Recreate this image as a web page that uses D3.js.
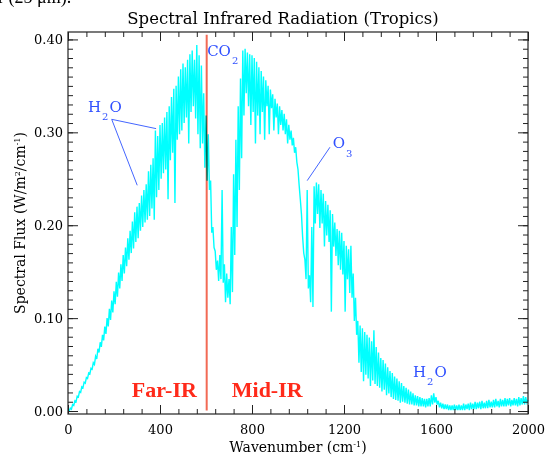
<!DOCTYPE html>
<html>
<head>
<meta charset="utf-8">
<script src="https://cdn.jsdelivr.net/npm/d3@7"></script>
<style>
  body { margin: 0; background: #fff; }
  svg { display: block; }
  .tick text { font-family: 'DejaVu Serif', serif; font-size: 13px; fill: #000; }
  .tick line { stroke: #222; }
</style>
</head>
<body>
<div id="chart"></div>
<script>
const width = 551;
const height = 458;
const plotLeft = 68, plotRight = 528, plotTop = 32, plotBottom = 414;

const wavenumbers = d3.range(0, 2001, 10);
const fluxHigh = [
  0.000, 0.003, 0.007, 0.011, 0.016, 0.021, 0.026, 0.031, 0.036, 0.041,
  0.046, 0.052, 0.059, 0.067, 0.074, 0.082, 0.091, 0.100, 0.110, 0.119,
  0.129, 0.139, 0.149, 0.158, 0.168, 0.176, 0.186, 0.194, 0.204, 0.214,
  0.220, 0.224, 0.232, 0.238, 0.244, 0.258, 0.265, 0.272, 0.302, 0.296,
  0.308, 0.310, 0.316, 0.322, 0.328, 0.338, 0.347, 0.350, 0.360, 0.368,
  0.374, 0.370, 0.378, 0.384, 0.388, 0.378, 0.394, 0.383, 0.372, 0.342,
  0.318, 0.298, 0.248, 0.198, 0.172, 0.162, 0.168, 0.238, 0.158, 0.148,
  0.142, 0.198, 0.255, 0.292, 0.328, 0.358, 0.388, 0.390, 0.386, 0.384,
  0.383, 0.380, 0.376, 0.370, 0.366, 0.360, 0.356, 0.350, 0.346, 0.341,
  0.336, 0.331, 0.328, 0.324, 0.320, 0.314, 0.308, 0.302, 0.294, 0.284,
  0.260, 0.228, 0.188, 0.163, 0.238, 0.146, 0.198, 0.242, 0.246, 0.244,
  0.238, 0.234, 0.226, 0.222, 0.216, 0.212, 0.203, 0.196, 0.194, 0.192,
  0.183, 0.178, 0.174, 0.178, 0.148, 0.122, 0.097, 0.092, 0.089, 0.085,
  0.082, 0.079, 0.075, 0.087, 0.069, 0.063, 0.057, 0.055, 0.051, 0.047,
  0.043, 0.041, 0.037, 0.035, 0.032, 0.030, 0.027, 0.025, 0.023, 0.021,
  0.019, 0.017, 0.016, 0.015, 0.014, 0.013, 0.013, 0.014, 0.017, 0.019,
  0.015, 0.011, 0.009, 0.008, 0.007, 0.007, 0.006, 0.006, 0.007, 0.006,
  0.007, 0.006, 0.008, 0.007, 0.008, 0.009, 0.008, 0.010, 0.009, 0.010,
  0.011, 0.009, 0.011, 0.012, 0.010, 0.012, 0.013, 0.011, 0.013, 0.012,
  0.014, 0.013, 0.014, 0.012, 0.014, 0.013, 0.015, 0.014, 0.016, 0.015,
  0.012
];
const fluxLow = [
  0.000, 0.002, 0.006, 0.010, 0.015, 0.020, 0.025, 0.030, 0.035, 0.040,
  0.045, 0.050, 0.056, 0.063, 0.069, 0.076, 0.083, 0.091, 0.098, 0.106,
  0.115, 0.123, 0.132, 0.140, 0.148, 0.156, 0.163, 0.170, 0.175, 0.182,
  0.186, 0.194, 0.198, 0.203, 0.206, 0.210, 0.218, 0.206, 0.230, 0.238,
  0.250, 0.256, 0.260, 0.228, 0.270, 0.278, 0.224, 0.292, 0.298, 0.302,
  0.310, 0.316, 0.288, 0.322, 0.328, 0.315, 0.298, 0.283, 0.288, 0.262,
  0.248, 0.238, 0.192, 0.176, 0.152, 0.140, 0.142, 0.138, 0.117, 0.122,
  0.115, 0.128, 0.168, 0.198, 0.238, 0.272, 0.318, 0.342, 0.328, 0.308,
  0.322, 0.288, 0.318, 0.298, 0.322, 0.292, 0.328, 0.298, 0.326, 0.302,
  0.316, 0.298, 0.308, 0.302, 0.298, 0.288, 0.292, 0.286, 0.278, 0.268,
  0.243, 0.212, 0.170, 0.142, 0.132, 0.117, 0.112, 0.202, 0.212, 0.197,
  0.202, 0.177, 0.189, 0.182, 0.107, 0.177, 0.167, 0.157, 0.152, 0.147,
  0.107, 0.142, 0.127, 0.122, 0.097, 0.082, 0.052, 0.042, 0.032, 0.039,
  0.035, 0.027, 0.033, 0.029, 0.027, 0.025, 0.021, 0.023, 0.017, 0.019,
  0.015, 0.013, 0.012, 0.011, 0.009, 0.010, 0.009, 0.008, 0.007, 0.007,
  0.006, 0.006, 0.005, 0.005, 0.005, 0.004, 0.005, 0.005, 0.007, 0.009,
  0.007, 0.004, 0.003, 0.002, 0.002, 0.001, 0.001, 0.001, 0.001, 0.001,
  0.001, 0.001, 0.001, 0.002, 0.001, 0.002, 0.002, 0.002, 0.003, 0.002,
  0.003, 0.003, 0.003, 0.004, 0.004, 0.004, 0.005, 0.004, 0.005, 0.005,
  0.005, 0.006, 0.005, 0.006, 0.006, 0.005, 0.006, 0.007, 0.007, 0.009,
  0.011
];

const xTicks = [0, 400, 800, 1200, 1600, 2000];
const yTicks = [0.0, 0.1, 0.2, 0.3, 0.4];
const xMinorTicks = d3.range(0, 2001, 80);
const yMinorTicks = d3.range(0, 0.401, 0.01);
const co2Edge = 603;

const svg = d3.select('#chart')
  .append('svg')
  .attr('width', width)
  .attr('height', height)
  .style('background', '#fff');

const x = d3.scaleLinear().domain([0, 2000]).range([plotLeft, plotRight]);
const y = d3.scaleLinear().domain([-0.0032, 0.408]).range([plotBottom, plotTop]);

// clipped caption line from the page above the figure
svg.append('text')
  .attr('x', -2)
  .attr('y', 3)
  .style('font-family', "'Liberation Serif', serif")
  .style('font-size', '18px')
  .text('r  (25 μm).');

svg.append('text')
  .attr('x', 283)
  .attr('y', 24)
  .attr('text-anchor', 'middle')
  .style('font-family', "'DejaVu Serif', serif")
  .style('font-size', '16.5px')
  .text('Spectral Infrared Radiation (Tropics)');

// spectrum
const points = [];
wavenumbers.forEach((wn, i) => {
  points.push([wn, fluxHigh[i]]);
  if (i < wavenumbers.length - 1) points.push([wn + 5, fluxLow[i]]);
});

const line = d3.line()
  .x(d => x(d[0]))
  .y(d => y(d[1]));

svg.append('path')
  .datum(points)
  .attr('d', line)
  .attr('fill', 'none')
  .attr('stroke', '#00ffff')
  .attr('stroke-width', 1.4);

svg.append('line')
  .attr('x1', x(co2Edge)).attr('x2', x(co2Edge))
  .attr('y1', y(0.405)).attr('y2', y(0.0005))
  .attr('stroke', '#f26a55')
  .attr('stroke-width', 2)
  .style('mix-blend-mode', 'multiply');

// axes, IDL style: ticks inside on all four sides
const gx = svg.append('g').attr('transform', `translate(0,${plotBottom})`);
gx.call(d3.axisBottom(x).tickValues(xTicks).tickSize(-9).tickPadding(11).tickFormat(d3.format('d')));
gx.call(g => g.append('g').call(d3.axisBottom(x).tickValues(xMinorTicks).tickSize(-5).tickFormat('')));

const gxTop = svg.append('g').attr('transform', `translate(0,${plotTop})`);
gxTop.call(d3.axisTop(x).tickValues(xTicks).tickSize(-9).tickFormat(''));
gxTop.call(g => g.append('g').call(d3.axisTop(x).tickValues(xMinorTicks).tickSize(-5).tickFormat('')));

const gy = svg.append('g').attr('transform', `translate(${plotLeft},0)`);
gy.call(d3.axisLeft(y).tickValues(yTicks).tickSize(-10).tickPadding(5).tickFormat(d3.format('.2f')));
gy.call(g => g.append('g').call(d3.axisLeft(y).tickValues(yMinorTicks).tickSize(-5).tickFormat('')));

const gyRight = svg.append('g').attr('transform', `translate(${plotRight},0)`);
gyRight.call(d3.axisRight(y).tickValues(yTicks).tickSize(-10).tickFormat(''));
gyRight.call(g => g.append('g').call(d3.axisRight(y).tickValues(yMinorTicks).tickSize(-5).tickFormat('')));

svg.selectAll('.domain').remove();

svg.append('rect')
  .attr('x', plotLeft)
  .attr('y', plotTop)
  .attr('width', plotRight - plotLeft)
  .attr('height', plotBottom - plotTop)
  .attr('fill', 'none')
  .attr('stroke', '#222')
  .attr('stroke-width', 1.2);

// axis titles
const xTitle = svg.append('text')
  .attr('x', (plotLeft + plotRight) / 2)
  .attr('y', 452)
  .attr('text-anchor', 'middle')
  .style('font-family', "'DejaVu Serif', serif")
  .style('font-size', '14px');
xTitle.append('tspan').text('Wavenumber (cm');
xTitle.append('tspan').attr('dy', -5).style('font-size', '8px').text('-1');
xTitle.append('tspan').attr('dy', 5).text(')');

const yTitle = svg.append('text')
  .attr('transform', `translate(25,${(plotTop + plotBottom) / 2}) rotate(-90)`)
  .attr('text-anchor', 'middle')
  .style('font-family', "'DejaVu Serif', serif")
  .style('font-size', '14px');
yTitle.append('tspan').text('Spectral Flux (W/m');
yTitle.append('tspan').attr('dy', -5).style('font-size', '8px').text('2');
yTitle.append('tspan').attr('dy', 5).text('/cm');
yTitle.append('tspan').attr('dy', -5).style('font-size', '8px').text('-1');
yTitle.append('tspan').attr('dy', 5).text(')');

// band labels
const bandFont = "'Liberation Serif', 'Times New Roman', serif";
svg.append('text')
  .attr('x', x(277)).attr('y', y(0.0155))
  .style('font-family', bandFont).style('font-size', '22px').style('font-weight', 'bold')
  .attr('fill', '#ff2a1a')
  .text('Far-IR');
svg.append('text')
  .attr('x', x(712)).attr('y', y(0.0155))
  .style('font-family', bandFont).style('font-size', '22px').style('font-weight', 'bold')
  .attr('fill', '#ff2a1a')
  .text('Mid-IR');

// molecule annotations
const blue = '#3050ff';
function molecule(wn, flux, parts) {
  const t = svg.append('text')
    .attr('x', x(wn)).attr('y', y(flux))
    .style('font-family', "'DejaVu Serif', serif")
    .style('font-size', '15px')
    .attr('fill', blue);
  parts.forEach(p => {
    t.append('tspan')
      .attr('dx', p.dx || 0)
      .attr('dy', p.dy || 0)
      .style('font-size', p.sub ? '10px' : '15px')
      .text(p.s);
  });
}
molecule(87, 0.322, [{ s: 'H' }, { s: '2', sub: true, dy: 8, dx: 1 }, { s: 'O', dy: -8, dx: 1 }]);
molecule(605, 0.382, [{ s: 'CO' }, { s: '2', sub: true, dy: 8, dx: 1 }]);
molecule(1151, 0.283, [{ s: 'O' }, { s: '3', sub: true, dy: 9, dx: 1 }]);
molecule(1500, 0.037, [{ s: 'H' }, { s: '2', sub: true, dy: 8, dx: 1 }, { s: 'O', dy: -8, dx: 1 }]);

const pointers = [
  [[190, 0.314], [383, 0.304]],
  [[190, 0.314], [301, 0.243]],
  [[1139, 0.284], [1040, 0.248]]
];
svg.selectAll('.pointer')
  .data(pointers)
  .enter()
  .append('line')
  .attr('class', 'pointer')
  .attr('x1', d => x(d[0][0])).attr('y1', d => y(d[0][1]))
  .attr('x2', d => x(d[1][0])).attr('y2', d => y(d[1][1]))
  .attr('stroke', '#4466ff')
  .attr('stroke-width', 1);
</script>
</body>
</html>
